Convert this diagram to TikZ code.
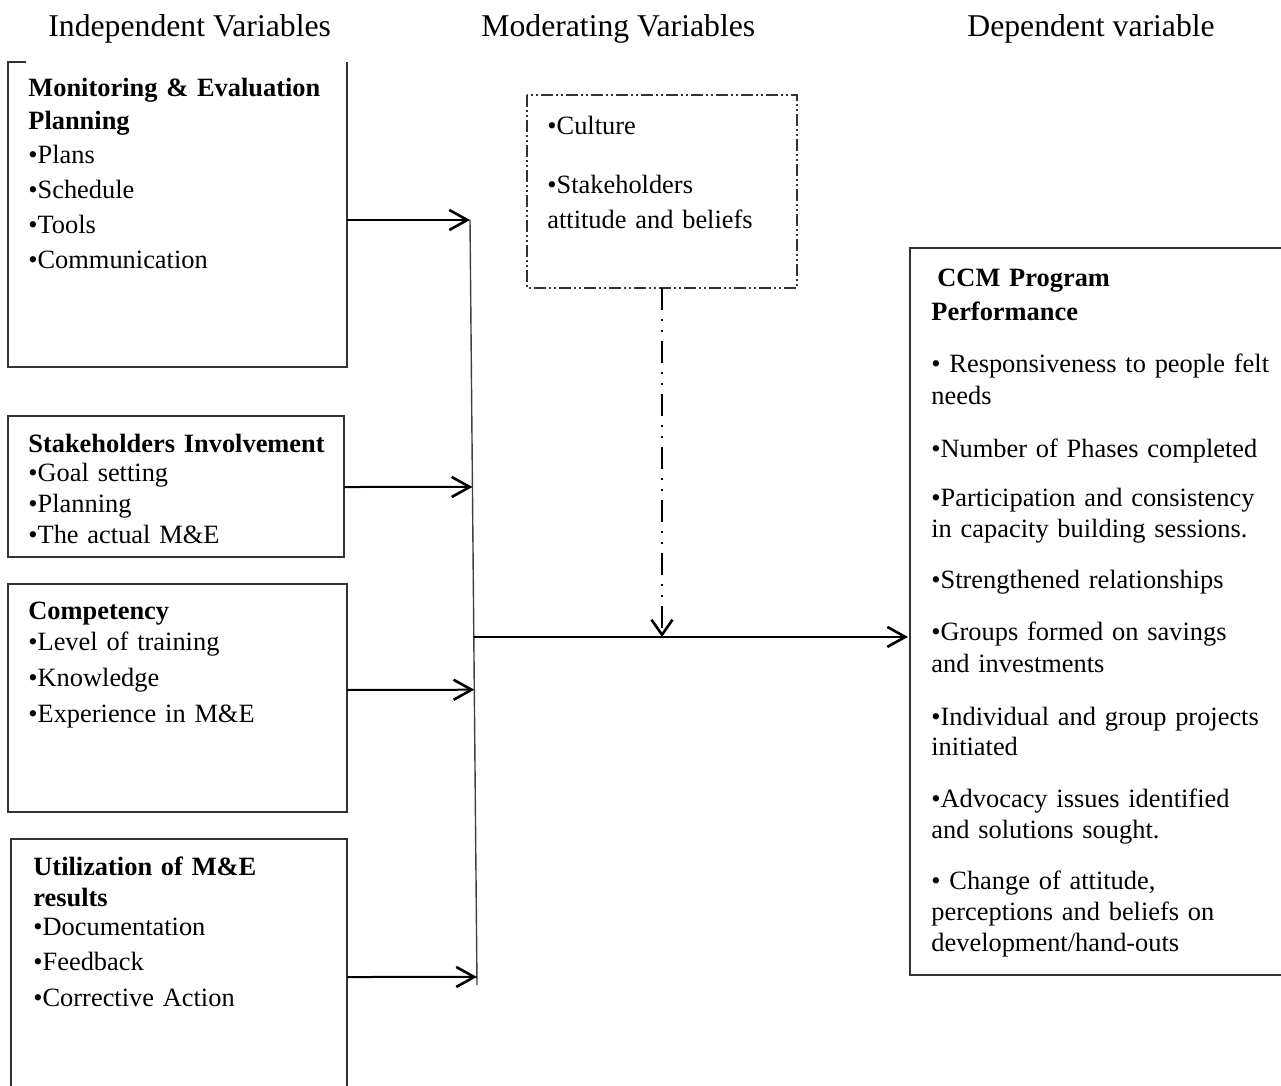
\documentclass[tikz,border=0pt]{standalone}
\usepackage{fontspec}
\setmainfont{Liberation Serif}
\usetikzlibrary{arrows.meta,calc}
\begin{document}
\begin{tikzpicture}[x=0.5pt,y=-0.5pt,
  boxline/.style={draw=black!80, line width=0.6pt},
  modline/.style={draw=black!80, line width=0.6pt, dash pattern=on 6pt off 1.5pt on 1pt off 1.5pt on 1pt off 1.5pt},
  body/.style={anchor=base west, inner sep=0pt, align=left, text width=185pt,
    font=\fontsize{13.2}{15.5}\selectfont},
  head/.style={anchor=base west, inner sep=0pt, font=\fontsize{15.85}{19}\selectfont},
  conn/.style={line width=1pt, -{Straight Barb[length=9pt,width=10pt,line width=1.3pt]}},
  modconn/.style={line width=1.3pt, dash pattern=on 11pt off 4.5pt on 1pt off 4.5pt on 1pt off 4.5pt,
    -{Straight Barb[length=7.5pt,width=10.5pt,line width=1.3pt]}},
  bar/.style={draw=black!75, line width=0.7pt}]
\useasboundingbox (0,0) rectangle (1281,1086);

% headers
\node[head] (h1) at (48,37) {Independent Variables};
\node[head] (h2) at (481,37) {Moderating Variables};
\node[head] (h3) at (967,37) {Dependent variable};

% box outlines
\draw[boxline] (26,62) -- (8,62) -- (8,367) -- (347,367) -- (347,62);
\draw[boxline] (8,416) rectangle (344,557);
\draw[boxline] (8,584) rectangle (347,812);
\draw[boxline] (11,1086) -- (11,839) -- (347,839) -- (347,1086);
\draw[modline] (527,95) rectangle (797,288);
\draw[boxline] (1281,248) -- (910,248) -- (910,975) -- (1281,975);

% box texts
\node[body] (mon) at (28,97) {\textbf{Monitoring \& Evaluation}\\[1pt]
  \textbf{Planning}\\[1.5pt]
  •Plans\\[2pt]
  •Schedule\\[2pt]
  •Tools\\[2pt]
  •Communication};
\node[body] (stk) at (28,452) {\textbf{Stakeholders Involvement}\\[-1pt]
  •Goal setting\\
  •Planning\\
  •The actual M\&E};
\node[body] (cmp) at (28,619) {\textbf{Competency}\\
  •Level of training\\[2.5pt]
  •Knowledge\\[2.5pt]
  •Experience in M\&E};
\node[body] (utl) at (33,875) {\textbf{Utilization of M\&E}\\
  \textbf{results}\\[-1pt]
  •Documentation\\[2pt]
  •Feedback\\[2.5pt]
  •Corrective Action};
\node[body] (mod) at (547,135) {•Culture\\[14pt]
  •Stakeholders\\[2pt]
  attitude and beliefs};
\node[body] (dep) at (931,286) {\hspace*{3pt}\textbf{CCM Program}\\[1.5pt]
  \textbf{Performance}\\[11pt]
  • Responsiveness to people felt\\
  needs\\[11pt]
  •Number of Phases completed\\[9pt]
  •Participation and consistency\\[0.5pt]
  in capacity building sessions.\\[10pt]
  •Strengthened relationships\\[10.5pt]
  •Groups formed on savings\\[0.5pt]
  and investments\\[11pt]
  •Individual and group projects\\[-0.5pt]
  initiated\\[10.5pt]
  •Advocacy issues identified\\
  and solutions sought.\\[10pt]
  • Change of attitude,\\
  perceptions and beliefs on\\
  development/hand-outs};

% collecting bar
\coordinate (bt) at (470,220);
\coordinate (bb) at (477,985);
\draw[bar] (bt) -- (bb);
\coordinate (t1) at (bt);
\coordinate (t2) at ($(bt)!0.349!(bb)$);
\coordinate (t3) at ($(bt)!0.614!(bb)$);
\coordinate (t4) at ($(bt)!0.9895!(bb)$);
\coordinate (m0) at ($(bt)!0.545!(bb)$);

% connectors from boxes to bar
\coordinate (s1) at (347,220);
\coordinate (s2) at (344,487);
\coordinate (s3) at (347,690);
\coordinate (s4) at (347,977);
\draw[conn] (s1) -- (t1);
\draw[conn] (s2) -- (t2);
\draw[conn] (s3) -- (t3);
\draw[conn] (s4) -- (t4);

% main arrow to dependent box
\coordinate (de) at (908,637);
\draw[conn] (m0) -- (m0 -| de);

% moderating arrow
\coordinate (mb) at (662,288);
\coordinate (mt) at (662,637);
\draw[modconn] (mb) -- (mt);
\end{tikzpicture}
\end{document}
